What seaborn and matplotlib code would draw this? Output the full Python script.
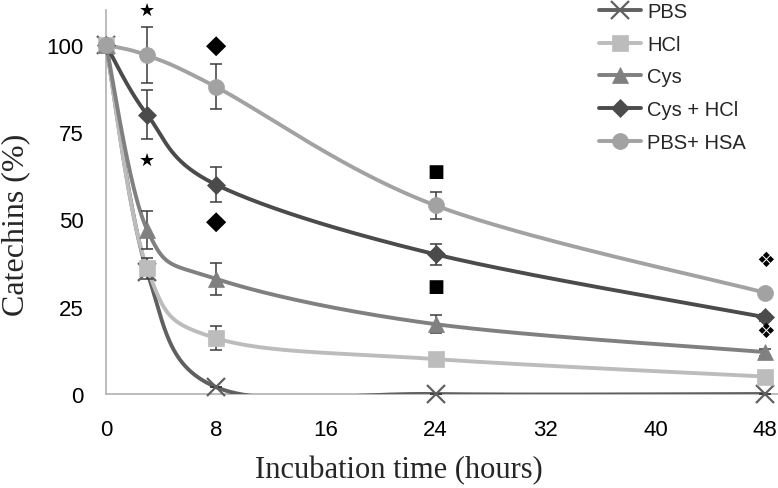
import numpy as np
import pandas as pd
import matplotlib
matplotlib.use("Agg")
import matplotlib.pyplot as plt
from matplotlib.lines import Line2D
import seaborn as sns

# ---- data ----
hours = [0, 3, 8, 24, 48]
series_names = ["PBS", "HCl", "Cys", "Cys + HCl", "PBS+ HSA"]
pbs = [100, 35, 2, 0, 0]
hcl = [100, 36, 16, 10, 5]
cys = [100, 47, 33, 20, 12]
cys_hcl = [100, 80, 60, 40, 22]
pbs_hsa = [100, 97, 88, 54, 29]
err_pbs = [0, 0, 0, 0, 0]
err_hcl = [0, 3, 3.5, 1.5, 1]
err_cys = [0, 5.5, 4.5, 2.5, 1]
err_cys_hcl = [0, 7, 5, 3, 1]
err_pbs_hsa = [0, 8, 6.5, 4, 1]
x_ticks = [0, 8, 16, 24, 32, 40, 48]
y_ticks = [0, 25, 50, 75, 100]
# significance symbols: (hour, value, symbol)
sig_x = [3, 3, 8, 8, 24, 24, 48, 48]
sig_y = [110, 67, 100, 49.5, 64, 31, 38.5, 18]
sig_sym = ["★", "★", "◆", "◆", "■", "■", "❖", "❖"]
sig_size = [13, 13, 19, 19, 13, 13, 15, 15]

values = [pbs, hcl, cys, cys_hcl, pbs_hsa]
errors = [err_pbs, err_hcl, err_cys, err_cys_hcl, err_pbs_hsa]
colors = ["#606060", "#bcbcbc", "#808080", "#4b4b4b", "#a2a2a2"]
markers = ["x", "s", "^", "D", "o"]
msizes = [13, 11, 11, 9.5, 11.5]


def smooth(xs, ys, n=60):
    """Excel-like smoothed line (Catmull-Rom Bezier)."""
    P = np.column_stack([xs, ys]).astype(float)
    out = []
    for i in range(len(P) - 1):
        p0 = P[i - 1] if i > 0 else P[i]
        p1 = P[i]
        p2 = P[i + 1]
        p3 = P[i + 2] if i + 2 < len(P) else P[i + 1]
        c1 = p1 + (p2 - p0) / 6.0
        c2 = p2 - (p3 - p1) / 6.0
        t = np.linspace(0, 1, n)[:, None]
        seg = ((1 - t) ** 3) * p1 + 3 * ((1 - t) ** 2) * t * c1 + 3 * (1 - t) * t ** 2 * c2 + t ** 3 * p2
        out.append(seg if i == 0 else seg[1:])
    return np.vstack(out)


rows = []
for name, ys in zip(series_names, values):
    curve = smooth(hours, ys)
    for k, (cx, cy) in enumerate(curve):
        rows.append({"series": name, "x": cx, "y": cy, "k": k})
curves = pd.DataFrame(rows)

sns.set_style("white")
plt.rcParams["font.family"] = ["Liberation Sans", "DejaVu Sans"]

fig = plt.figure(figsize=(7.78, 4.89), dpi=100)
ax = fig.add_axes([106 / 778, 1 - 395 / 489, (779 - 106) / 778, (395 - 11) / 489])

sns.lineplot(data=curves, x="x", y="y", hue="series", units="series", estimator=None,
             sort=False, palette=dict(zip(series_names, colors)), linewidth=2.8,
             legend=False, ax=ax, zorder=3)

for name, ys, es, c, m, ms in zip(series_names, values, errors, colors, markers, msizes):
    ax.errorbar(hours, ys, yerr=es, fmt="none", ecolor="#3c3c3c", elinewidth=1.1,
                capsize=4.5, capthick=1.1, zorder=4, clip_on=False)
    ax.plot(hours, ys, linestyle="none", marker=m, markersize=ms, color=c,
            markeredgecolor=c, markeredgewidth=1.6 if m == "x" else 0.5, zorder=5, clip_on=False)

for sx, sy, s, fs in zip(sig_x, sig_y, sig_sym, sig_size):
    ax.text(sx, sy, s, ha="center", va="center", fontsize=fs, color="black",
            family=["DejaVu Sans"], zorder=6, clip_on=False)

ax.set_xlim(0, 49)
ax.set_ylim(0, 110)
ax.set_xticks(x_ticks)
ax.set_yticks(y_ticks)
ax.tick_params(axis="both", labelsize=16, colors="#b0b0b0", labelcolor="black",
               length=5, width=1, direction="out")
ax.tick_params(axis="x", pad=13)
ax.tick_params(axis="y", pad=11)
for side in ["top", "right"]:
    ax.spines[side].set_visible(False)
for side in ["left", "bottom"]:
    ax.spines[side].set_color("#b0b0b0")
    ax.spines[side].set_linewidth(1.2)

ax.set_xlabel("Incubation time (hours)", family=["Liberation Serif"], fontsize=22, labelpad=12)
ax.set_ylabel("Catechins (%)", family=["Liberation Serif"], fontsize=23, labelpad=0)
ax.xaxis.set_label_coords((399 - 106) / 673, -(471 - 395) / 384)
ax.yaxis.set_label_coords(-(106 - 16) / 673, (395 - 225) / 384)
ax.xaxis.label.set_va("center")
ax.yaxis.label.set_va("center")

handles = [Line2D([0], [0], color=c, lw=2.8, marker=m, markersize=ms, markeredgecolor=c,
                  markeredgewidth=1.6 if m == "x" else 0.5)
           for c, m, ms in zip(colors, markers, msizes)]
fig.legend(handles, series_names, loc="upper left", bbox_to_anchor=(596 / 778, 1.0),
           frameon=False, fontsize=14.5, handlelength=2.1, handletextpad=0.3,
           labelspacing=0.68, borderpad=0.15, borderaxespad=0)

fig.savefig("out.png", dpi=100)
